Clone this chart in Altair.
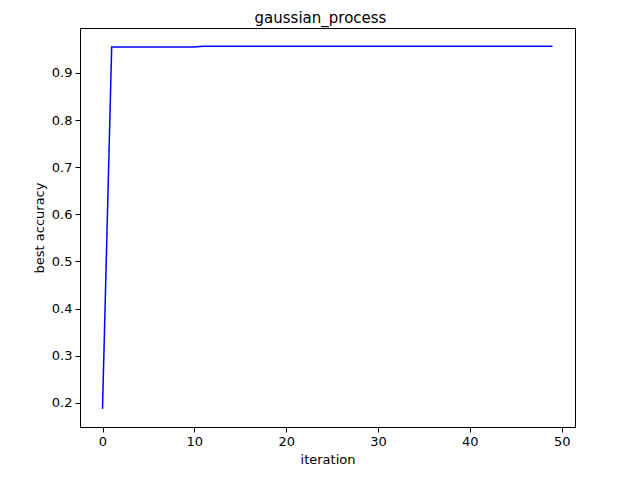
import altair as alt
import pandas as pd

iterations = list(range(50))
best_acc = [0.187] + [0.955] * 10 + [0.957] * 39

df = pd.DataFrame({"iteration": iterations, "best accuracy": best_acc})

chart = alt.Chart(df).mark_line(color="blue", strokeWidth=1.5, clip=True).encode(
    x=alt.X("iteration:Q", scale=alt.Scale(domain=[-2.45, 51.45], nice=False, zero=False),
            axis=alt.Axis(values=[0, 10, 20, 30, 40, 50], title="iteration")),
    y=alt.Y("best accuracy:Q", scale=alt.Scale(domain=[0.1485, 0.9955], nice=False, zero=False),
            axis=alt.Axis(values=[0.2, 0.3, 0.4, 0.5, 0.6, 0.7, 0.8, 0.9], format=".1f", title="best accuracy")),
).properties(
    width=495, height=399,
    title=alt.TitleParams("gaussian_process", fontSize=15, font="DejaVu Sans", fontWeight="normal",
                          anchor="middle", offset=2, dx=-7),
    autosize=alt.AutoSizeParams(type="none"),
    padding={"left": 72, "top": 20, "right": 57, "bottom": 45},
).configure_axis(
    grid=False, domainColor="black", tickColor="black", tickSize=5,
    labelFont="DejaVu Sans", labelFontSize=13, labelColor="black",
    titleFont="DejaVu Sans", titleFontSize=13, titleFontWeight="normal", titleColor="black",
    labelPadding=3, titlePadding=5,
).configure_view(stroke="black", strokeWidth=1)

chart.save("out.html", embed_options={"renderer": "svg", "actions": False})
